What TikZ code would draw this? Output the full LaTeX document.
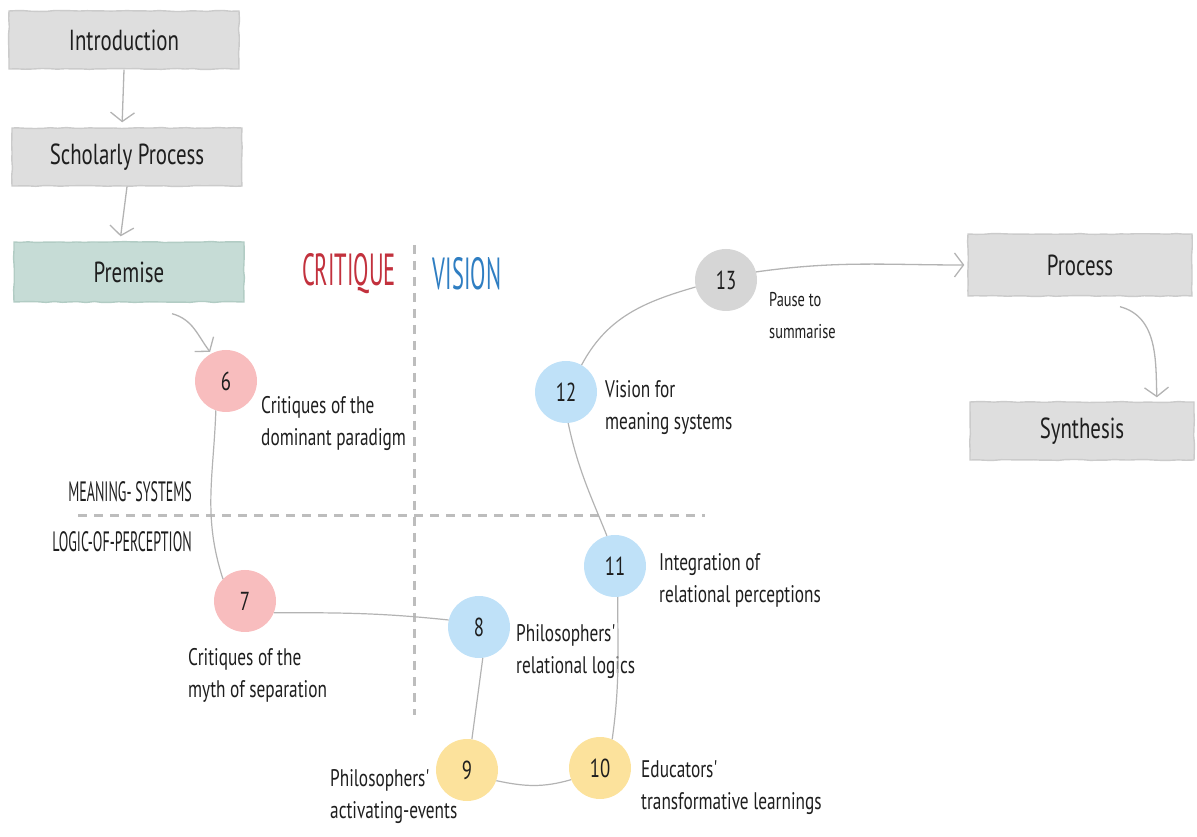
\documentclass[tikz,border=0pt]{standalone}
\usepackage{fontspec}
\usetikzlibrary{arrows.meta,decorations.pathmorphing,calc}
\newfontfamily\handfont[FakeStretch=0.72]{PT Sans}
\newfontfamily\capsfont[FakeStretch=0.5]{PT Sans}

\definecolor{ink}{HTML}{1E1E1E}
\definecolor{boxgray}{HTML}{DEDEDE}
\definecolor{boxedge}{HTML}{CBCBCB}
\definecolor{boxteal}{HTML}{C6DCD6}
\definecolor{tealedge}{HTML}{B2CCC4}
\definecolor{dotpink}{HTML}{F8BDBE}
\definecolor{dotblue}{HTML}{BFE1F8}
\definecolor{dotyellow}{HTML}{FCE29C}
\definecolor{dotgray}{HTML}{D6D6D6}
\definecolor{wire}{HTML}{B3B3B3}
\definecolor{guide}{HTML}{BDBDBD}
\definecolor{critred}{HTML}{C2313D}
\definecolor{visblue}{HTML}{2F7EC2}

\tikzset{
  stage/.style={fill=boxgray, draw=boxedge, line width=1.4pt,
    minimum width=230pt, minimum height=58pt, inner sep=0pt,
    decorate, decoration={random steps, segment length=8pt, amplitude=0.5pt},
    text=ink, font=\handfont\fontsize{29}{32}\selectfont},
  dot/.style={circle, minimum size=62pt, inner sep=0pt, text=ink,
    font=\handfont\fontsize{26}{28}\selectfont},
  note/.style={align=left, anchor=west, inner sep=0pt, text=ink,
    font=\handfont\fontsize{24}{32}\selectfont},
  smallnote/.style={note, font=\handfont\fontsize{20}{32}\selectfont},
  axislabel/.style={anchor=east, inner sep=0pt, text=ink,
    font=\capsfont\fontsize{28}{30}\selectfont},
  quarter/.style={inner sep=0pt, font=\capsfont\fontsize{45}{46}\selectfont},
  flow/.style={draw=wire, line width=1.3pt,
    -{Straight Barb[length=9pt,width=24pt,line width=1.3pt]}},
  link/.style={draw=wire, line width=1.2pt},
  divider/.style={draw=guide, line width=3pt, dash pattern=on 9pt off 7pt}
}

\begin{document}
\begin{tikzpicture}[x=1pt,y=1pt]
\useasboundingbox (0,0) rectangle (1197,836);
\pgfmathsetseed{7}

% quadrant dividers
\path[divider] (414,591) -- (414,121);
\path[divider] (78,320) -- (705,320);

% quadrant headings
\node[quarter, text=critred] (crit) at (349,562) {CRITIQUE};
\node[quarter, text=visblue] (vis) at (467,562) {VISION};
\node[axislabel] (meaning) at (192,344) {MEANING- SYSTEMS};
\node[axislabel] (logic) at (192,294) {LOGIC-OF-PERCEPTION};

% stage boxes
\node[stage] (intro) at (124,796) {Introduction};
\node[stage] (schol) at (127,679) {Scholarly Process};
\node[stage, fill=boxteal, draw=tealedge, minimum height=60pt] (premise) at (129,564) {Premise};
\node[stage, minimum width=224pt, minimum height=62pt] (process) at (1080,571) {Process};
\node[stage, minimum width=224pt] (synth) at (1082,405) {Synthesis};

% numbered steps
\node[dot, fill=dotpink] (c6) at (226,455) {6};
\node[dot, fill=dotpink] (c7) at (245,235) {7};
\node[dot, fill=dotblue] (c8) at (479,209) {8};
\node[dot, fill=dotyellow] (c9) at (467,66) {9};
\node[dot, fill=dotyellow] (c10) at (600,68) {10};
\node[dot, fill=dotblue] (c11) at (615,270) {11};
\node[dot, fill=dotblue] (c12) at (566,444) {12};
\node[dot, fill=dotgray] (c13) at (726,556) {13};

% step descriptions
\node[note] (t6) at (261,412) {Critiques of the\\dominant paradigm};
\node[note] (t7) at (188,161) {Critiques of the\\myth of separation};
\node[note] (t8) at (516,184) {Philosophers'\\relational logics};
\node[note] (t9) at (330,39) {Philosophers'\\activating-events};
\node[note] (t10) at (641,48) {Educators'\\transformative learnings};
\node[note] (t11) at (659,256) {Integration of\\relational perceptions};
\node[note] (t12) at (605,428) {Vision for\\meaning systems};
\node[smallnote] (t13) at (769,520) {Pause to\\summarise};

% flow between stages
\draw[flow, shorten >=5pt] (intro.south) -- ([xshift=-5pt]schol.north);
\draw[flow, shorten >=5pt] (schol.south) -- ([xshift=-9pt]premise.north);
\draw[flow, shorten >=2pt] ([xshift=43pt,yshift=-11pt]premise.south) to[out=-15,in=128] (c6.118);
\draw[flow, shorten >=3pt] (c13.15) to[out=8,in=180] (process.west);
\draw[flow, shorten >=4pt] ([xshift=40pt,yshift=-10pt]process.south) to[out=-15,in=92] ([xshift=75pt]synth.north);

% links between steps
\draw[link] (c6.251) to[out=-92,in=108] (c7.135);
\draw[link] (c7.-22) to[out=0,in=174] (c8.167);
\draw[link] (c8.-83) -- (c9.81);
\draw[link] (c9.-20) to[out=-12,in=196] (c10.202);
\draw[link] (c10.67) to[out=82,in=-90] (c11.-85);
\draw[link] (c11.105) to[out=112,in=-78] (c12.-86);
\draw[link] (c12.60) to[out=62,in=196] (c13.193);
\end{tikzpicture}
\end{document}
